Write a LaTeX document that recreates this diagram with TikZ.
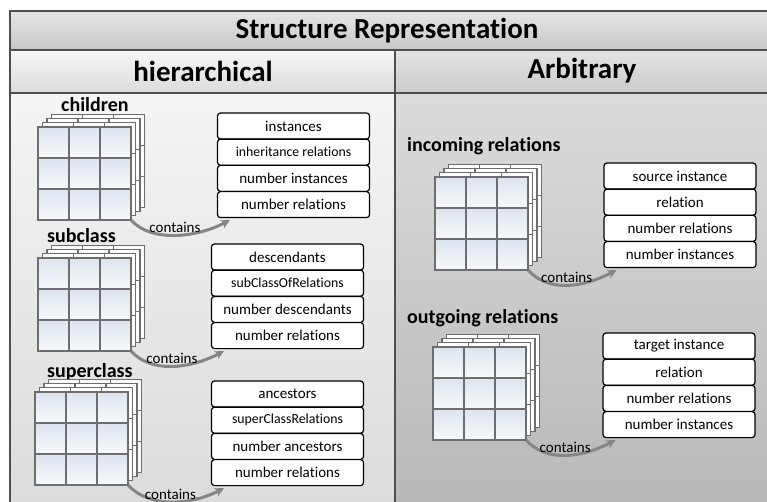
\documentclass[tikz,border=0pt]{standalone}
\usepackage{fontspec}
\setmainfont{Carlito}[Ligatures={NoCommon}]
\usetikzlibrary{positioning,arrows.meta}

\definecolor{framegray}{HTML}{4E4E4E}
\definecolor{gridline}{HTML}{6E6E6E}
\definecolor{cellblue}{HTML}{DCE4EE}
\definecolor{arcgray}{HTML}{858585}

\tikzset{
  field/.style={draw, line width=1.2pt, rounded corners=3pt, fill=white,
    minimum width=152pt, minimum height=26pt, inner sep=0pt,
    font=\fontsize{15}{16}\selectfont},
  longfield/.style={font=\fontsize{13.8}{15}\selectfont},
  headtext/.style={inner sep=0pt, font=\bfseries\fontsize{29}{32}\selectfont},
  setlabel/.style={anchor=west, inner sep=0pt, font=\bfseries\fontsize{20}{22}\selectfont},
  frontcell/.style={draw=gridline, line width=1.3pt, top color=cellblue, bottom color=cellblue!20!white},
  backcell/.style={draw=gridline, line width=1.1pt, fill=white!94!cellblue},
  containsarrow/.style={draw=arcgray, line width=3pt, -{Stealth[length=9pt,width=9pt]}},
  containslabel/.style={inner sep=1pt, font=\fontsize{15}{16}\selectfont},
  frameline/.style={draw=framegray, line width=1.6pt}
}

% stack of 3x3 grids: name, x and y of the front grid's top left corner
\newcommand{\gridstack}[3]{%
  \foreach \l in {3,2,1}
    \foreach \i in {0,1,2}
      \foreach \j in {0,1,2}
        \draw[backcell] (#2+31*\i+4.5*\l,#3+31*\j-4.3*\l) rectangle ++(31,31);
  \foreach \i in {0,1,2}
    \foreach \j in {0,1,2}
      \draw[frontcell] (#2+31*\i,#3+31*\j) rectangle ++(31,31);
  \node[inner sep=0pt, minimum size=93pt] (#1) at (#2+46.5,#3+46.5) {};
}

\begin{document}
\begin{tikzpicture}[x=1pt, y=-1pt]
    \useasboundingbox (0,0) rectangle (767,502);
    \clip (0,0) rectangle (767,502);

    % panels
    \shade[top color=white!90!black, bottom color=white!78!black] (10,11) rectangle (780,50);
    \shade[top color=white!97!black, bottom color=white!86!black] (10,50) rectangle (395,93);
    \shade[top color=white!89!black, bottom color=white!80!black] (395,50) rectangle (780,93);
    \shade[top color=white!96!black, bottom color=white!86!black] (10,93) rectangle (395,510);
    \shade[top color=white!86!black, bottom color=white!72!black] (395,93) rectangle (780,510);
    \draw[frameline] (10,11) rectangle (780,510);
    \draw[frameline] (10,50) -- (780,50);
    \draw[frameline] (10,93) -- (780,93);
    \draw[frameline] (395,50) -- (395,510);

    \node[headtext] (title) at (387,31) {Structure Representation};
    \node[headtext] (hier) at (203,71) {hierarchical};
    \node[headtext] (arb) at (582,71) {Arbitrary};

    % children
    \node[setlabel] (chlabel) at (61,105) {children};
    \gridstack{chgrid}{38}{127}
    \node[field] (ch1) at (293.5,126) {instances};
    \node[field, longfield, below=-1pt of ch1] (ch2) {inheritance relations};
    \node[field, below=-1pt of ch2] (ch3) {number instances};
    \node[field, below=-1pt of ch3] (ch4) {number relations};
    \draw[containsarrow] (chgrid.south east) .. controls +(20,22) and +(-35,18) .. ([xshift=13pt,yshift=-2pt]ch4.south west)
        node[containslabel, pos=.5, above] {contains};

    % subclass
    \node[setlabel] (sublabel) at (47,236) {subclass};
    \gridstack{subgrid}{38}{258}
    \node[field] (sub1) at (287.5,257) {descendants};
    \node[field, longfield, below=-1pt of sub1] (sub2) {subClassOfRelations};
    \node[field, below=-1pt of sub2] (sub3) {number descendants};
    \node[field, below=-1pt of sub3] (sub4) {number relations};
    \draw[containsarrow] (subgrid.south east) .. controls +(20,22) and +(-35,18) .. ([xshift=13pt,yshift=-2pt]sub4.south west)
        node[containslabel, pos=.5, above] {contains};

    % superclass
    \node[setlabel] (suplabel) at (47,372) {superclass};
    \gridstack{supgrid}{35}{392}
    \node[field] (sup1) at (287.5,394) {ancestors};
    \node[field, longfield, below=-1pt of sup1] (sup2) {superClassRelations};
    \node[field, below=-1pt of sup2] (sup3) {number ancestors};
    \node[field, below=-1pt of sup3] (sup4) {number relations};
    \draw[containsarrow] (supgrid.south east) .. controls +(20,22) and +(-35,18) .. ([xshift=13pt,yshift=-2pt]sup4.south west)
        node[containslabel, pos=.5, above] {contains};

    % incoming relations
    \node[setlabel] (inlabel) at (407,146) {incoming relations};
    \gridstack{ingrid}{435}{177}
    \node[field] (in1) at (680,176) {source instance};
    \node[field, below=-1pt of in1] (in2) {relation};
    \node[field, below=-1pt of in2] (in3) {number relations};
    \node[field, below=-1pt of in3] (in4) {number instances};
    \draw[containsarrow] (ingrid.south east) .. controls +(20,22) and +(-35,18) .. ([xshift=13pt,yshift=-2pt]in4.south west)
        node[containslabel, pos=.5, above] {contains};

    % outgoing relations
    \node[setlabel] (outlabel) at (407,318) {outgoing relations};
    \gridstack{outgrid}{433}{347}
    \node[field] (out1) at (679,346) {target instance};
    \node[field, below=-1pt of out1] (out2) {relation};
    \node[field, below=-1pt of out2] (out3) {number relations};
    \node[field, below=-1pt of out3] (out4) {number instances};
    \draw[containsarrow] (outgrid.south east) .. controls +(20,22) and +(-35,18) .. ([xshift=13pt,yshift=-2pt]out4.south west)
        node[containslabel, pos=.5, above] {contains};
\end{tikzpicture}
\end{document}
